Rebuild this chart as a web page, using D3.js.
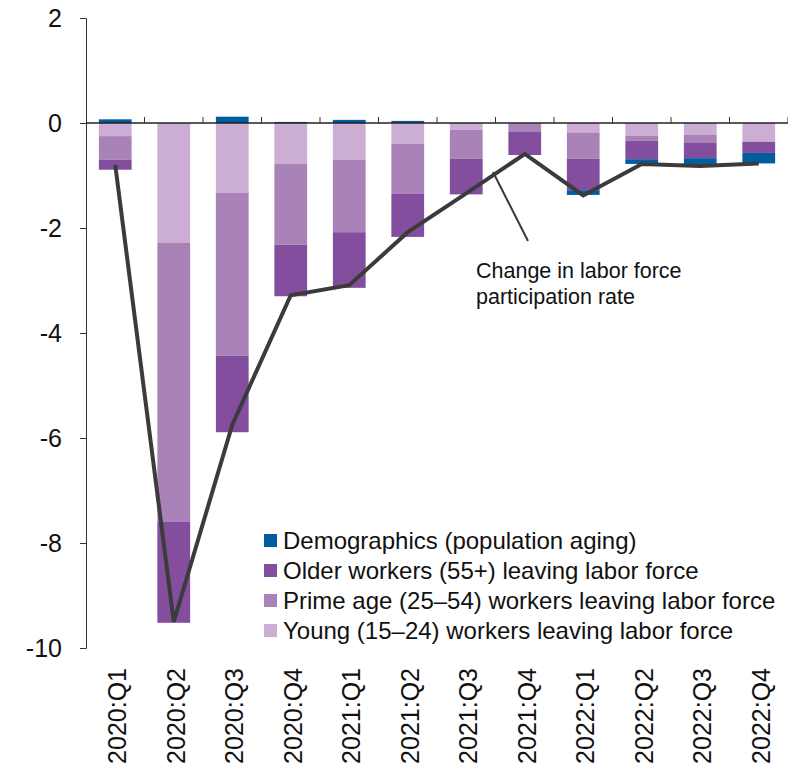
<!DOCTYPE html>
<html>
<head>
<meta charset="utf-8">
<script src="https://cdn.jsdelivr.net/npm/d3@7"></script>
<style>
  body { margin: 0; background: #fff; }
  svg { display: block; font-family: "Liberation Sans", Arial, sans-serif; }
</style>
</head>
<body>
<div id="chart"></div>
<script>
// quarters on the x axis
const quarters = ["2020:Q1", "2020:Q2", "2020:Q3", "2020:Q4",
                  "2021:Q1", "2021:Q2", "2021:Q3", "2021:Q4",
                  "2022:Q1", "2022:Q2", "2022:Q3", "2022:Q4"]

// contributions, percentage points
const young        = [-0.25, -2.28, -1.33, -0.78, -0.70, -0.39, -0.13, -0.01, -0.18, -0.24, -0.22, -0.35]
const primeAge     = [-0.45, -5.31, -3.10, -1.54, -1.38, -0.96, -0.55, -0.15, -0.50, -0.10, -0.15, -0.01]
const older        = [-0.19, -1.93, -1.46, -0.98, -1.06, -0.82, -0.68, -0.45, -0.60, -0.35, -0.30, -0.21]
const demographics = [ 0.07,  0.00,  0.12,  0.02,  0.06,  0.04,  0.00,  0.00, -0.09, -0.09, -0.11, -0.20]

// total change in participation rate
const lfprChange = [-0.80, -9.50, -5.75, -3.28, -3.09, -2.08, -1.34, -0.59, -1.38, -0.78, -0.82, -0.77]

const yTicks = [2, 0, -2, -4, -6, -8, -10]

const series = [
    {key: "young", label: "Young (15\u201324) workers leaving labor force", color: "#ccadd3", values: young},
    {key: "prime", label: "Prime age (25\u201354) workers leaving labor force", color: "#a982b8", values: primeAge},
    {key: "older", label: "Older workers (55+) leaving labor force", color: "#834e9d", values: older},
    {key: "demo", label: "Demographics (population aging)", color: "#005ea0", values: demographics}
]

const width = 788, height = 769
const plot = {left: 86, right: 788, top: 18, bottom: 648}

const rows = quarters.map((q, i) => {
    const r = {quarter: q}
    series.forEach(s => r[s.key] = s.values[i])
    return r
})

const stacked = d3.stack()
    .keys(series.map(s => s.key))
    .offset(d3.stackOffsetDiverging)(rows)

const x = d3.scaleBand().domain(quarters).range([plot.left, plot.right]).paddingInner(0.44).paddingOuter(0.22)
const xb = d3.scaleBand().domain(quarters).range([plot.left, plot.right])
const y = d3.scaleLinear().domain([-10, 2]).range([plot.bottom, plot.top])

const svg = d3.select("#chart").append("svg")
    .attr("width", width).attr("height", height)

// bars
svg.append("g").selectAll("g")
    .data(stacked)
    .join("g")
    .attr("fill", (d, i) => series[i].color)
    .selectAll("rect")
    .data(d => d)
    .join("rect")
    .attr("x", d => x(d.data.quarter))
    .attr("width", x.bandwidth())
    .attr("y", d => y(Math.max(d[0], d[1])))
    .attr("height", d => Math.abs(y(d[0]) - y(d[1])))

// y axis
const yAxis = svg.append("g")
    .attr("transform", `translate(${plot.left},0)`)
    .call(d3.axisLeft(y).tickValues(yTicks).tickSize(6).tickPadding(18).tickFormat(d3.format("d")))
yAxis.select(".domain").attr("stroke", "#333").attr("stroke-width", 1)
yAxis.selectAll(".tick line").attr("stroke", "#333")
yAxis.selectAll("text").attr("font-size", 25).attr("fill", "#111")
    .text(d => d < 0 ? "-" + Math.abs(d) : d)

// zero line with ticks between quarters
const xAxis = svg.append("g")
    .attr("transform", `translate(0,${y(0)})`)
xAxis.append("line")
    .attr("x1", plot.left).attr("x2", plot.right)
    .attr("stroke", "#222").attr("stroke-width", 1.3)
xAxis.selectAll(".sep")
    .data(quarters)
    .join("line")
    .attr("class", "sep")
    .attr("x1", d => xb(d) + xb.bandwidth())
    .attr("x2", d => xb(d) + xb.bandwidth())
    .attr("y1", 0).attr("y2", -6)
    .attr("stroke", "#333")

// x labels at the bottom
svg.append("g").selectAll("text")
    .data(quarters)
    .join("text")
    .attr("transform", d => `translate(${xb(d) + xb.bandwidth() / 2 + 2},668) rotate(-90)`)
    .attr("text-anchor", "end")
    .attr("dy", "0.36em")
    .attr("font-size", 25)
    .attr("fill", "#111")
    .text(d => d)

// participation rate line
const line = d3.line()
    .x((d, i) => xb(quarters[i]) + xb.bandwidth() / 2)
    .y(d => y(d))

svg.append("path")
    .datum(lfprChange)
    .attr("d", line)
    .attr("fill", "none")
    .attr("stroke", "#3b3b3b")
    .attr("stroke-width", 4)
    .attr("stroke-linejoin", "miter")

// annotation
svg.append("line")
    .attr("x1", 493).attr("y1", 172)
    .attr("x2", 528).attr("y2", 241)
    .attr("stroke", "#3b3b3b").attr("stroke-width", 2)

const note = svg.append("text")
    .attr("font-size", 21.5).attr("fill", "#111")
note.append("tspan").attr("x", 476).attr("y", 278).text("Change in labor force")
note.append("tspan").attr("x", 476).attr("y", 304).text("participation rate")

// legend
const legendItems = series.slice().reverse()
const legend = svg.append("g").selectAll("g")
    .data(legendItems)
    .join("g")
    .attr("transform", (d, i) => `translate(264,${534 + i * 30})`)
legend.append("rect")
    .attr("width", 13).attr("height", 13)
    .attr("fill", d => d.color)
legend.append("text")
    .attr("x", 19).attr("y", 14.5)
    .attr("font-size", 24).attr("fill", "#111")
    .text(d => d.label)
</script>
</body>
</html>
